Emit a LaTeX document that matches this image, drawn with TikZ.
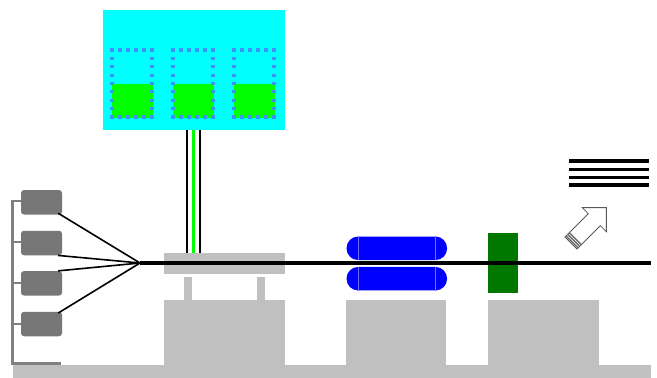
\documentclass[tikz,border=0pt]{standalone}
\usetikzlibrary{calc}
\definecolor{support}{RGB}{192,192,192}
\definecolor{unitgray}{RGB}{119,119,119}
\definecolor{railgray}{RGB}{128,128,128}
\definecolor{tank}{RGB}{0,255,255}
\definecolor{dotblue}{RGB}{64,144,250}
\definecolor{liquid}{RGB}{0,255,0}
\definecolor{coilblue}{RGB}{0,0,255}
\definecolor{coilline}{RGB}{110,110,255}
\definecolor{target}{RGB}{0,120,0}
\tikzset{
  block/.style={fill=support, draw=none},
  unit/.style={fill=unitgray, draw=none, rounded corners=3pt},
  rail/.style={draw=railgray, line width=2.4pt},
  feed/.style={draw=black, line width=1.6pt},
  beam/.style={draw=black, line width=4pt},
  dotsq/.style={fill=dotblue, draw=none},
  coil/.style={fill=coilblue, draw=none, rounded corners=11.5pt},
  pipe/.style={line width=2.4pt},
  stripe/.style={draw=black, line width=3.2pt},
}
\begin{document}
\begin{tikzpicture}[x=1pt, y=-1pt]
\useasboundingbox (0,0) rectangle (657,378);
\fill[white] (0,0) rectangle (657,378);

% ground and supports
\path[block] (13,365) rectangle (651,378);
\path[block] (164,300) rectangle (285,366);
\path[block] (346,300) rectangle (446,366);
\path[block] (488,300) rectangle (599,366);
\path[block] (184,277) rectangle (192,301);
\path[block] (257,277) rectangle (265,301);
\node[block, minimum width=121pt, minimum height=21pt, inner sep=0pt] (stage) at (224.5,263.5) {};

% tank with three cells, each outlined by a row of square dots
\node[fill=tank, minimum width=182pt, minimum height=120pt, inner sep=0pt] (tank) at (194,70) {};
\foreach \cx in {132, 193, 254} {
  \fill[liquid] (\cx-20.5,84) rectangle (\cx+20.5,117.5);
  \foreach \i in {0,...,5} {
    \fill[dotsq] (\cx-20+8*\i-1.6,50-1.6) rectangle ++(3.2,3.2);
    \fill[dotsq] (\cx-20+8*\i-1.6,117-1.6) rectangle ++(3.2,3.2);
  }
  \foreach \j in {1,...,7} {
    \fill[dotsq] (\cx-20-1.6,50+8.375*\j-1.6) rectangle ++(3.2,3.2);
    \fill[dotsq] (\cx+20-1.6,50+8.375*\j-1.6) rectangle ++(3.2,3.2);
  }
}

% feed lines from tank to stage
\coordinate (pa) at (187,130);  \coordinate (pb) at (187,253);
\coordinate (pc) at (193.5,130); \coordinate (pd) at (193.5,253);
\coordinate (pe) at (200,130);  \coordinate (pf) at (200,253);
\draw[pipe, black] (pa) -- (pb);
\draw[pipe, black] (pe) -- (pf);
\draw[line width=3.2pt, liquid] (pc) -- (pd);

% left rack of units
\draw[rail] (22,200.7) -| (12.5,363.3) -- (61,363.3);
\foreach \y in {241.7,282.7,324} { \draw[rail] (12.5,\y) -- (22,\y); }
\node[unit, minimum width=41pt, minimum height=24.5pt, inner sep=0pt] (u1) at (41.5,202.3) {};
\node[unit, minimum width=41pt, minimum height=24.5pt, inner sep=0pt] (u2) at (41.5,243) {};
\node[unit, minimum width=41pt, minimum height=24.5pt, inner sep=0pt] (u3) at (41.5,283.3) {};
\node[unit, minimum width=41pt, minimum height=24.5pt, inner sep=0pt] (u4) at (41.5,324) {};

% converging feed lines and the beam
\coordinate (focus) at (140,263);
\coordinate (beamend) at (651,263);
\draw[feed] ($(u1.south east)+(-4,-1.5)$) -- (focus);
\draw[feed] ($(u2.south east)+(-4,0)$) -- (focus);
\draw[feed] ($(u3.north east)+(-4,0)$) -- (focus);
\draw[feed] ($(u4.north east)+(-4,1.5)$) -- (focus);

% magnet pair
\node[coil, minimum width=100.5pt, minimum height=23.5pt, inner sep=0pt] (m1) at (396.8,248.3) {};
\node[coil, minimum width=100.5pt, minimum height=23.5pt, inner sep=0pt] (m2) at (396.8,278.7) {};
\foreach \m in {m1,m2} {
  \draw[coilline, line width=0.6pt] ($(\m.north west)+(11.5,0)$) -- ($(\m.south west)+(11.5,0)$);
  \draw[coilline, line width=0.6pt] ($(\m.north east)+(-11.5,0)$) -- ($(\m.south east)+(-11.5,0)$);
}

% target
\node[fill=target, minimum width=30pt, minimum height=60pt, inner sep=0pt] (tgt) at (503,263) {};

\draw[beam] (focus) -- (beamend);

% outgoing arrow
\begin{scope}[shift={(571,243)}, rotate=45]
  \draw[fill=white, draw=gray!70!black, line width=0.8pt, line join=miter]
    (0,-8.5) -- (33,-8.5) -- (33,-17) -- (50,0) -- (33,17) -- (33,8.5) -- (0,8.5) -- cycle;
  \foreach \s in {1.5,3.8,6.1} { \draw[gray!85!black, line width=1.3pt] (\s,-8.5) -- (\s,8.5); }
\end{scope}

% detector planes
\foreach \y/\nm in {161/d1,169.3/d2,177.3/d3,185/d4} {
  \coordinate (\nm a) at (569,\y); \coordinate (\nm b) at (649,\y);
  \draw[stripe] (\nm a) -- (\nm b);
}
\end{tikzpicture}
\end{document}
